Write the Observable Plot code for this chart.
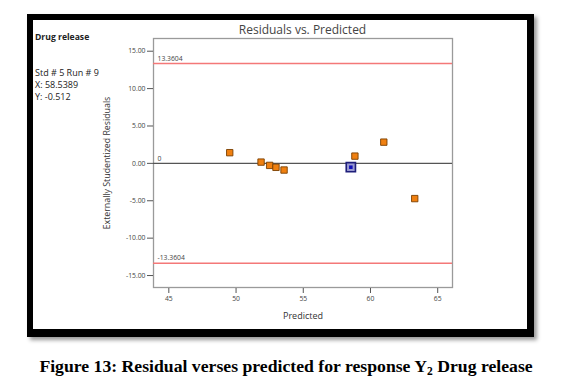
<!DOCTYPE html>
<html>
<head>
<meta charset="utf-8">
<script src="https://cdn.jsdelivr.net/npm/d3@7"></script>
<script src="https://cdn.jsdelivr.net/npm/@observablehq/plot@0.6"></script>
<style>
  html, body { margin: 0; padding: 0; background: #fff; }
  #wrap { position: relative; width: 572px; height: 386px; font-family: "Open Sans", "DejaVu Sans", sans-serif; }
  #border { position: absolute; left: 27px; top: 14px; width: 507px; height: 323px; box-sizing: border-box;
            border: 6px solid #000; border-bottom-width: 8px; border-right-width: 7px; box-shadow: 3px 3px 4px #999; }
  #chart { position: absolute; left: 0; top: 0; }
  .info { position: absolute; left: 35px; font-size: 9px; color: #222; }
  #title { position: absolute; left: 153px; width: 299px; top: 21px; text-align: center; font-size: 12px; color: #444; }
  #caption { position: absolute; left: 0; width: 572px; top: 356px; text-align: center;
             font-family: "Liberation Serif", "Times New Roman", serif; font-weight: bold; font-size: 17.7px; color: #000; }
  #caption sub { font-size: 11.5px; vertical-align: -3px; line-height: 0; }
</style>
</head>
<body>
<div id="wrap">
  <div id="border"></div>
  <div id="chart"></div>
  <div id="title">Residuals vs. Predicted</div>
  <div class="info" style="top:31px;font-weight:bold;font-size:8.6px;">Drug release</div>
  <div class="info" style="top:66px;">Std # 5 Run # 9</div>
  <div class="info" style="top:78px;">X: 58.5389</div>
  <div class="info" style="top:90px;">Y: -0.512</div>
  <div id="caption">Figure 13: Residual verses predicted for response Y<sub>2</sub> Drug release</div>
</div>
<script>
// Data
const predicted = [49.53, 51.86, 52.50, 52.97, 53.57, 58.84, 60.99, 63.29];
const residuals = [1.43, 0.17, -0.27, -0.53, -0.89, 0.97, 2.84, -4.71];
const selectedX = [58.5389];
const selectedY = [-0.512];
const limits = [13.3604, -13.3604];
const limitLabels = ["13.3604", "-13.3604"];
const zeroLine = [0];
const zeroLabel = ["0"];
const xTicks = [45, 50, 55, 60, 65];
const yTicks = [-15, -10, -5, 0, 5, 10, 15];

const points = predicted.map((x, i) => ({x, y: residuals[i]}));
const selected = selectedX.map((x, i) => ({x, y: selectedY[i]}));
const limitRows = limits.map((y, i) => ({y, label: limitLabels[i]}));
const zeroRows = zeroLine.map((y, i) => ({y, label: zeroLabel[i]}));

const chart = Plot.plot({
  width: 572,
  height: 345,
  marginLeft: 153,
  marginRight: 120,
  marginTop: 38,
  marginBottom: 58,
  style: { background: "transparent", fontFamily: "'Open Sans', 'DejaVu Sans', sans-serif", color: "#444" },
  x: { domain: [43.86, 66.1] },
  y: { domain: [-16.6, 16.7] },
  marks: [
    Plot.frame({ stroke: "#9a9a9a", strokeWidth: 1.3 }),
    Plot.ruleY(limitRows, { y: "y", stroke: "#f47878", strokeWidth: 1.5 }),
    Plot.text(limitRows, { y: "y", text: "label", frameAnchor: "left", dx: 4, dy: -5, textAnchor: "start", fontSize: 6.8, fill: "#444" }),
    Plot.ruleY(zeroRows, { y: "y", stroke: "#555", strokeWidth: 1.3 }),
    Plot.text(zeroRows, { y: "y", text: "label", frameAnchor: "left", dx: 4, dy: -5, textAnchor: "start", fontSize: 6.8, fill: "#444" }),
    Plot.axisX({ ticks: xTicks, tickSize: 5, dy: 1, tickPadding: 3, fontSize: 6.8, stroke: "#555",
                 label: "Predicted", labelAnchor: "center", labelArrow: "none", labelOffset: 31 }),
    Plot.axisY({ ticks: yTicks, tickSize: 6, tickPadding: 2, fontSize: 6.8, stroke: "#555",
                 tickFormat: d => d.toFixed(2),
                 label: "Externally Studentized Residuals", labelAnchor: "center", labelArrow: "none", labelOffset: 50 }),
    Plot.dot(points, { x: "x", y: "y", symbol: "square", r: 3.6, fill: "#f08010", stroke: "#7a3f00", strokeWidth: 0.9 }),
    Plot.dot(selected, { x: "x", y: "y", symbol: "square", r: 5.2, fill: "#9a9ad0", stroke: "#1e1e7a", strokeWidth: 1.6 }),
    Plot.dot(selected, { x: "x", y: "y", symbol: "square", r: 2, fill: "#1010b8" })
  ]
});
chart.querySelectorAll("g[aria-label='x-axis label'] text").forEach(t => {
  t.setAttribute("font-size", "9"); t.style.fill = "#333";
});
chart.querySelectorAll("g[aria-label='y-axis label'] text").forEach(t => {
  t.setAttribute("font-size", "8.8"); t.style.fill = "#333";
});
document.getElementById("chart").appendChild(chart);
</script>
</body>
</html>
